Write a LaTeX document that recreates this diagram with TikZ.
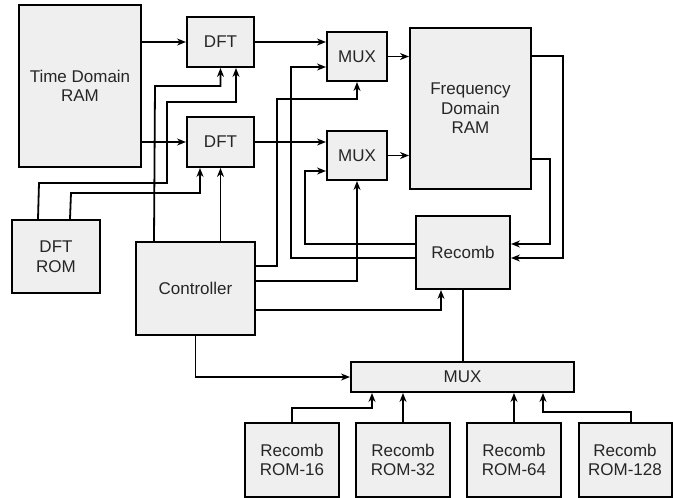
\documentclass[tikz,border=0pt]{standalone}
\usepackage{fontspec}
\setmainfont{Liberation Sans}
\usetikzlibrary{arrows.meta,calc}
\begin{document}
\begin{tikzpicture}[x=1pt,y=-1pt,
  block/.style={draw=black,line width=2pt,fill=blockfill,inner sep=0pt,
    align=center,font=\fontsize{17}{19.5}\selectfont,text=black!85},
  wire/.style={line width=1.8pt},
  arr/.style={wire,-{Stealth[length=9pt,width=7pt,inset=3pt]}}]
\definecolor{blockfill}{HTML}{EFEFEF}
\useasboundingbox (0,0) rectangle (673,498);

% blocks
\node[block,minimum width=122pt,minimum height=162pt] (tdram)  at (80,86)    {Time Domain\\RAM};
\node[block,minimum width=67pt, minimum height=50pt]  (dft1)   at (220.5,42) {DFT};
\node[block,minimum width=67pt, minimum height=50pt]  (dft2)   at (220.5,142){DFT};
\node[block,minimum width=88pt, minimum height=73pt]  (dftrom) at (56,256.5) {DFT\\ROM};
\node[block,minimum width=119pt,minimum height=93pt]  (ctrl)   at (195.5,288.5){Controller};
\node[block,minimum width=60pt, minimum height=49pt]  (mux1)   at (357,56.5) {MUX};
\node[block,minimum width=60pt, minimum height=49pt]  (mux2)   at (357,155.5){MUX};
\node[block,minimum width=121pt,minimum height=161pt] (fdram)  at (470.5,108.5){Frequency\\Domain\\RAM};
\node[block,minimum width=94pt, minimum height=73pt]  (recomb) at (463,252.5) {Recomb};
\node[block,minimum width=223pt,minimum height=30pt]  (bigmux) at (462.5,377) {MUX};
\node[block,minimum width=94pt, minimum height=74pt]  (rom16)  at (292,460)   {Recomb\\ROM-16};
\node[block,minimum width=94pt, minimum height=74pt]  (rom32)  at (403,460)   {Recomb\\ROM-32};
\node[block,minimum width=94pt, minimum height=74pt]  (rom64)  at (514,460)   {Recomb\\ROM-64};
\node[block,minimum width=93pt, minimum height=74pt]  (rom128) at (625,460)   {Recomb\\ROM-128};

% data path
\draw[arr] (tdram.east |- dft1.west) -- (dft1.west);
\draw[arr] (tdram.east |- dft2.west) -- (dft2.west);
\draw[arr] (dft1.east) -- (dft1.east -| mux1.west);
\draw[arr] (dft2.east) -- (dft2.east -| mux2.west);
\draw[arr] (mux1.east) -- (mux1.east -| fdram.west);
\draw[arr] (mux2.east) -- (mux2.east -| fdram.west);

% control and coefficient lines into the DFTs
\draw[arr] ($(ctrl.north west)+(19,0)$) -- (155,86) -| (dft1.south);
\draw[arr] ($(dftrom.north west)+(27,0)$) -- (39,183) -- (167,183) -- (167,102) -| ($(dft1.south)+(15.5,0)$);
\draw[arr] ($(dftrom.north west)+(59,0)$) -- (71,193) -| ($(dft2.south)+(-20.5,0)$);
\draw[arr] (dft2.south |- ctrl.north) -- (dft2.south);

% lines into the MUXes
\draw[arr] ($(ctrl.north east)+(0,25)$) -| (277,99) -| (mux1.south);
\draw[arr] ($(ctrl.north east)+(0,40)$) -| (mux2.south);
\draw[arr] ($(recomb.north west)+(0,43)$) -| ($(mux1.west)+(-35,10.5)$) -- ($(mux1.west)+(0,10.5)$);
\draw[arr] ($(recomb.north west)+(0,29)$) -| ($(mux2.west)+(-21,15.5)$) -- ($(mux2.west)+(0,15.5)$);

% lines into Recomb
\draw[arr] ($(ctrl.north east)+(0,69)$) -| ($(recomb.south)+(-22,0)$);
\draw[arr] ($(fdram.north east)+(0,29)$) -- ++(31,0) |- ($(recomb.north east)+(0,43)$);
\draw[arr] ($(fdram.north east)+(0,132)$) -- ++(18,0) |- ($(recomb.north east)+(0,29)$);

% lines into the bottom MUX
\draw[wire] (recomb.south) -- (recomb.south |- bigmux.north);
\draw[arr] (ctrl.south) |- (bigmux.west);
\draw[arr] (rom16.north) -- ++(0,-14) -| ($(bigmux.south west)+(22,0)$);
\draw[arr] (rom32.north) -- (rom32.north |- bigmux.south);
\draw[arr] (rom64.north) -- (rom64.north |- bigmux.south);
\draw[arr] ($(rom128.north)+(6,0)$) -- ++(0,-10) -| ($(bigmux.south west)+(193,0)$);
\end{tikzpicture}
\end{document}
